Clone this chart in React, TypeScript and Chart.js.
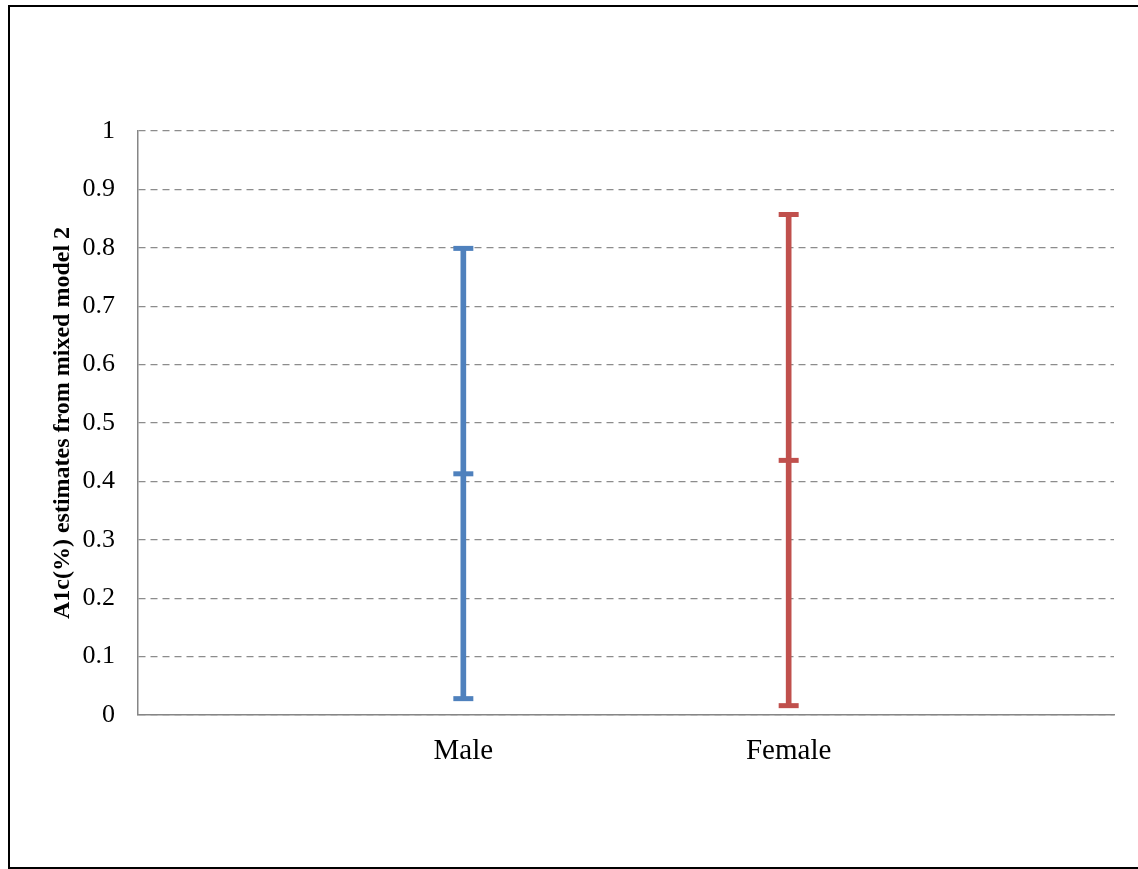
import React, { useEffect, useRef } from "react";
import { Chart, registerables } from "chart.js";

Chart.register(...registerables);

// Group names on the x axis (blank slots pad the ends so groups sit at thirds)
const categories = ["", "Male", "Female", ""];
// Estimates with their lower / upper limits
const lowerLimits = [null, 0.028, 0.016, null];
const estimates = [null, 0.413, 0.436, null];
const upperLimits = [null, 0.799, 0.857, null];
const groupColors = ["#4F81BD", "#4F81BD", "#C0504D", "#C0504D"];
const yTickLabels = ["0", "0.1", "0.2", "0.3", "0.4", "0.5", "0.6", "0.7", "0.8", "0.9", "1"];
const yTitle = "A1c(%) estimates from mixed model 2";

const FONT = "'Liberation Serif', 'Times New Roman', serif";

export default function App() {
  const canvasRef = useRef<HTMLCanvasElement | null>(null);

  useEffect(() => {
    if (!canvasRef.current) return;
    const ranges = lowerLimits.map((lo, i) =>
      lo === null || upperLimits[i] === null ? null : [lo, upperLimits[i] as number]
    );
    const capDataset = (label: string, data: (number | null)[]) => ({
      type: "line" as const,
      label,
      data,
      showLine: false,
      pointStyle: "line" as const,
      pointRadius: 10,
      pointHoverRadius: 10,
      pointBorderWidth: 5,
      pointBorderColor: groupColors,
      pointBackgroundColor: groupColors,
    });

    const chart = new Chart(canvasRef.current, {
      type: "bar",
      data: {
        labels: categories,
        datasets: [
          {
            type: "bar",
            label: "range",
            data: ranges as any,
            backgroundColor: groupColors,
            borderWidth: 0,
            barThickness: 5,
          },
          capDataset("lower", lowerLimits),
          capDataset("estimate", estimates),
          capDataset("upper", upperLimits),
        ] as any,
      },
      options: {
        animation: false,
        responsive: false,
        maintainAspectRatio: false,
        layout: { padding: { top: 124, right: 22, bottom: 0, left: 0 } },
        plugins: {
          legend: { display: false },
          tooltip: { enabled: false },
        },
        scales: {
          x: {
            type: "category",
            offset: false,
            grid: { display: false, drawTicks: false },
            border: { display: true, color: "#868686", width: 1.5 },
            ticks: {
              color: "#000",
              padding: 19,
              maxRotation: 0,
              autoSkip: false,
              font: { family: FONT, size: 29 },
            },
            afterFit: (scale: any) => {
              scale.height = 152;
            },
          },
          y: {
            min: 0,
            max: 1,
            grid: {
              color: "#8C8C8C",
              lineWidth: 1.3,
              drawTicks: false,
            },
            border: { display: true, color: "#868686", width: 1.5, dash: [7, 5] },
            ticks: {
              stepSize: 0.1,
              color: "#000",
              padding: 23,
              font: { family: FONT, size: 26 },
              callback: (_v: any, i: number) => yTickLabels[i],
            },
            title: {
              display: true,
              text: yTitle,
              color: "#000",
              padding: { top: 38, bottom: 0 },
              font: { family: FONT, size: 24, weight: "bold" },
            },
            afterFit: (scale: any) => {
              scale.width = 128;
            },
          },
        },
      } as any,
    });
    return () => chart.destroy();
  }, []);

  return (
    <div
      style={{
        position: "absolute",
        left: 8,
        top: 5,
        width: 1130,
        height: 864,
        boxSizing: "border-box",
        borderTop: "2px solid #000",
        borderLeft: "2px solid #000",
        borderBottom: "2px solid #000",
        background: "#fff",
      }}
    >
      <canvas ref={canvasRef} width={1126} height={860} style={{ display: "block" }} />
    </div>
  );
}
